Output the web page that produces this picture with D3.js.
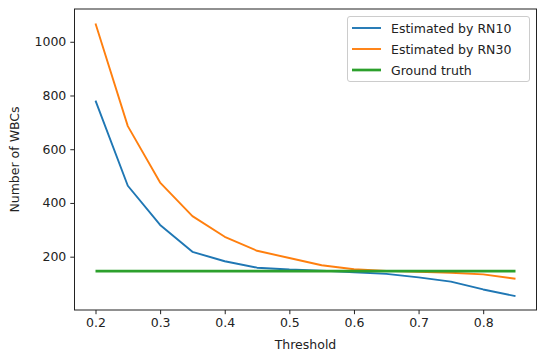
<!DOCTYPE html>
<html><head><meta charset="utf-8">
<script src="https://cdn.jsdelivr.net/npm/d3@7"></script>
<style>body{margin:0;background:#fff}svg{display:block}text{font-family:"DejaVu Sans",sans-serif}</style>
</head><body><svg id="c" width="550" height="360"></svg>
<script>
const thresholds = [0.2,0.25,0.3,0.35,0.4,0.45,0.5,0.55,0.6,0.65,0.7,0.75,0.8,0.85];
const rn10 = [781,464,318,218,183,159,152,148,142,136,123,107,78,53];
const rn30 = [1068,686,476,351,274,222,195,168,153,147,144,140,134,118];
const groundTruth = [146,146,146,146,146,146,146,146,146,146,146,146,146,146];
const xTicks = [0.2,0.3,0.4,0.5,0.6,0.7,0.8];
const yTicks = [200,400,600,800,1000];
const seriesNames = ["Estimated by RN10","Estimated by RN30","Ground truth"];
const colors = ["#1f77b4","#ff7f0e","#2ca02c"];
const widths = [1.9,1.9,2.7];

const L=74.5,R=536.5,T=9,B=310;
const svg=d3.select("#c");
const x=d3.scaleLinear().domain([0.1675,0.8825]).range([L,R]);
const y=d3.scaleLinear().domain([1.5,1122]).range([B,T]);

const series=[rn10,rn30,groundTruth];
const line=d3.line().x((d,i)=>x(thresholds[i])).y(d=>y(d));
series.forEach((s,k)=>{
  svg.append("path").attr("d",line(s)).attr("fill","none")
    .attr("stroke",colors[k]).attr("stroke-width",widths[k]).attr("stroke-linejoin","round");
});

const xa=svg.append("g").attr("transform",`translate(0,${B})`)
  .call(d3.axisBottom(x).tickValues(xTicks).tickSize(4.2).tickPadding(4).tickFormat(d3.format(".1f")));
const ya=svg.append("g").attr("transform",`translate(${L},0)`)
  .call(d3.axisLeft(y).tickValues(yTicks).tickSize(4.2).tickPadding(4).tickFormat(d3.format("d")));
[xa,ya].forEach(a=>{a.select(".domain").remove();a.selectAll("text").attr("font-size",12.5).attr("fill","#222").attr("font-family","DejaVu Sans");a.selectAll("line").attr("stroke","#222").attr("stroke-width",1);});

svg.append("rect").attr("x",L).attr("y",T).attr("width",R-L).attr("height",B-T)
  .attr("fill","none").attr("stroke","#222").attr("stroke-width",1);

svg.append("text").attr("x",(L+R)/2).attr("y",349).attr("text-anchor","middle")
  .attr("font-size",12.5).attr("fill","#222").text("Threshold");
svg.append("text").attr("transform",`translate(19,${(T+B)/2}) rotate(-90)`).attr("text-anchor","middle")
  .attr("font-size",12.5).attr("fill","#222").text("Number of WBCs");

const lg=svg.append("g");
lg.append("rect").attr("x",347.5).attr("y",16.5).attr("width",182).attr("height",65).attr("rx",2.5)
  .attr("fill","#fff").attr("fill-opacity",0.8).attr("stroke","#ccc").attr("stroke-width",1);
seriesNames.forEach((n,k)=>{
  const yy=28+k*21;
  lg.append("line").attr("x1",352).attr("x2",381).attr("y1",yy).attr("y2",yy)
    .attr("stroke",colors[k]).attr("stroke-width",widths[k]);
  lg.append("text").attr("x",391).attr("y",yy+4.5).attr("font-size",12.5).attr("fill","#222").text(n);
});
</script></body></html>
